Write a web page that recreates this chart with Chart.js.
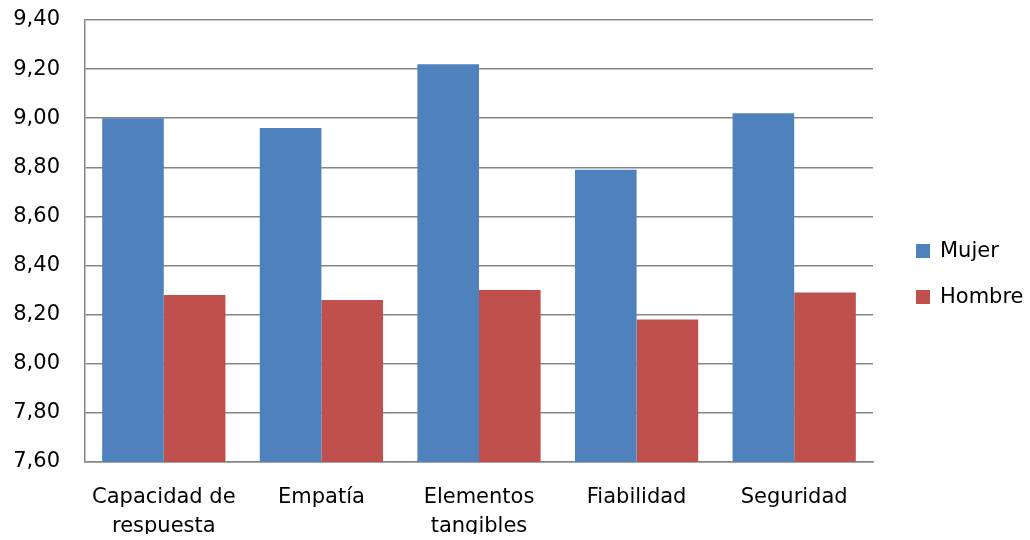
<!DOCTYPE html>
<html>
<head>
<meta charset="utf-8">
<script src="https://cdn.jsdelivr.net/npm/chart.js@4"></script>
<style>
  html, body { margin: 0; padding: 0; background: #fff; }
  #wrap { width: 1030px; height: 540px; }
</style>
</head>
<body>
<div id="wrap"><canvas id="chart"></canvas></div>
<script>
const categories = [['Capacidad de', 'respuesta'], 'Empatía', ['Elementos', 'tangibles'], 'Fiabilidad', 'Seguridad']
const mujer = [9.00, 8.96, 9.22, 8.79, 9.02]
const hombre = [8.28, 8.26, 8.30, 8.18, 8.29]
const yTickLabels = ['7,60', '7,80', '8,00', '8,20', '8,40', '8,60', '8,80', '9,00', '9,20', '9,40']

const FONT = "'DejaVu Sans', sans-serif"

// legend drawn at the right of the plot, Excel style
const sideLegend = {
  id: 'sideLegend',
  afterDraw(chart) {
    const ctx = chart.ctx
    const area = chart.chartArea
    const x = area.right + 43
    const ys = [251, 297]
    ctx.save()
    ctx.font = '21px ' + FONT
    ctx.textBaseline = 'middle'
    chart.data.datasets.forEach((ds, i) => {
      ctx.fillStyle = ds.backgroundColor
      ctx.fillRect(x, ys[i] - 7, 14, 14)
      ctx.fillStyle = '#000'
      ctx.fillText(ds.label, x + 24, ys[i] + 1)
    })
    ctx.restore()
  }
}

const ctx = document.getElementById('chart').getContext('2d')
new Chart(ctx, {
  type: 'bar',
  data: {
    labels: categories,
    datasets: [
      { label: 'Mujer', data: mujer, backgroundColor: '#4F81BD' },
      { label: 'Hombre', data: hombre, backgroundColor: '#C0504D' }
    ]
  },
  options: {
    responsive: true,
    maintainAspectRatio: false,
    animation: false,
    datasets: {
      bar: { categoryPercentage: 0.782, barPercentage: 1 }
    },
    layout: { padding: { left: 13, right: 157, top: 20, bottom: 6 } },
    scales: {
      x: {
        grid: { display: false, drawTicks: false },
        border: { color: '#868686', width: 1.5 },
        afterFit: (scale) => { scale.height = 72 },
        ticks: {
          color: '#000',
          padding: 21,
          maxRotation: 0,
          autoSkip: false,
          font: { family: FONT, size: 21, lineHeight: 1.38 }
        }
      },
      y: {
        min: 7.6,
        max: 9.4,
        grid: { color: '#868686', lineWidth: 1.5, drawTicks: false },
        border: { color: '#868686', width: 1.5 },
        afterFit: (scale) => {
          scale.width = 72
          // tick padding should not push the plot down
          scale.paddingTop = 0
          scale.paddingBottom = 0
        },
        ticks: {
          stepSize: 0.2,
          color: '#000',
          padding: 25,
          font: { family: FONT, size: 21 },
          callback: (value, index) => yTickLabels[index]
        }
      }
    },
    plugins: {
      legend: { display: false },
      tooltip: { enabled: false }
    }
  },
  plugins: [sideLegend]
})
</script>
</body>
</html>
